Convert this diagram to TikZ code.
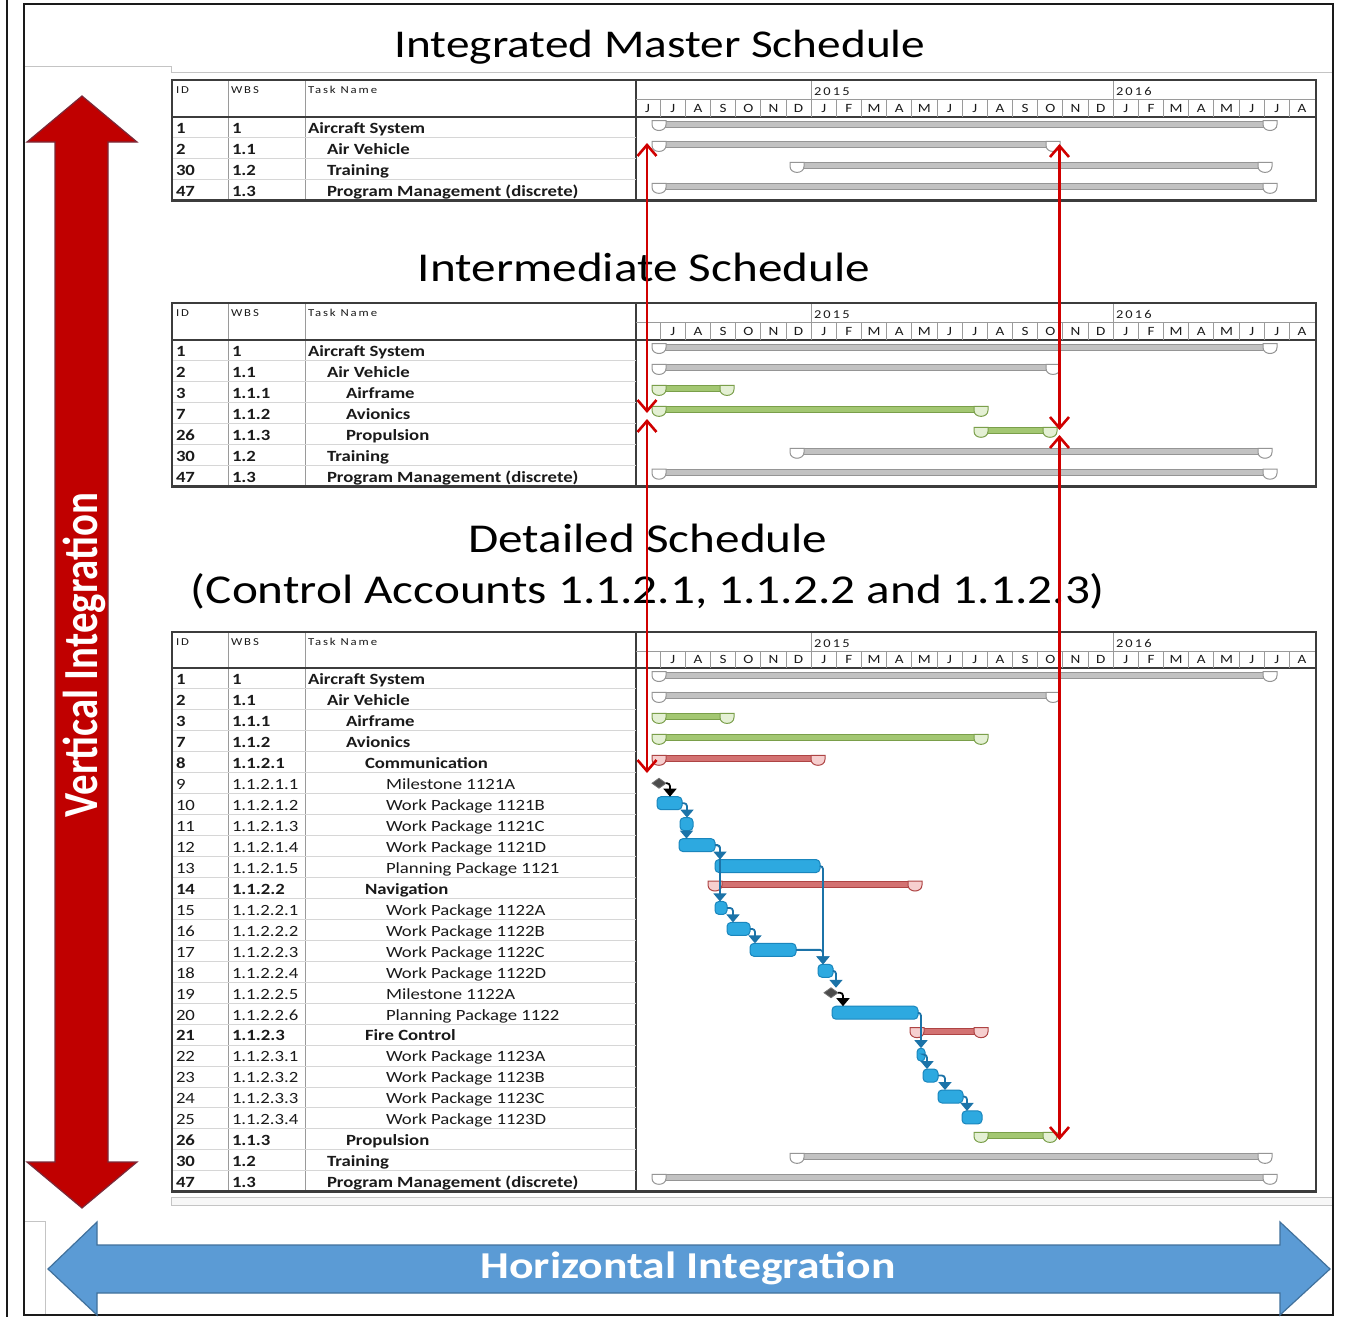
\documentclass[tikz,border=0pt]{standalone}
\usepackage{fontspec}
\setmainfont{Carlito}[FakeStretch=1.2]
\newfontfamily\hdrfont{Carlito}[FakeStretch=1.2,LetterSpace=18]
\newfontfamily\sidefont{Carlito}[FakeStretch=0.833]
\usetikzlibrary{arrows.meta,shapes.geometric}

\definecolor{frameblack}{HTML}{1A1A1A}
\definecolor{softgray}{HTML}{C4C4C4}
\definecolor{tabborder}{HTML}{3C3C3C}
\definecolor{colgray}{HTML}{9A9A9A}
\definecolor{rowgray}{HTML}{D6D6D6}
\definecolor{txtdark}{HTML}{1A1A1A}
\definecolor{sumgrayf}{HTML}{C2C2C2}
\definecolor{sumgrayd}{HTML}{959595}
\definecolor{sumgreenf}{HTML}{A3C772}
\definecolor{sumgreend}{HTML}{7A9F4A}
\definecolor{sumgreenc}{HTML}{E4F0D4}
\definecolor{sumredf}{HTML}{D37272}
\definecolor{sumredd}{HTML}{AE4444}
\definecolor{sumredc}{HTML}{F6CFCF}
\definecolor{taskblue}{HTML}{2DA9E0}
\definecolor{taskblued}{HTML}{1A86BD}
\definecolor{linkblue}{HTML}{1B73A8}
\definecolor{msgray}{HTML}{4C4C4C}
\definecolor{vred}{HTML}{C00000}
\definecolor{vredline}{HTML}{7A2A3A}
\definecolor{hblue}{HTML}{5B9BD5}
\definecolor{hblueline}{HTML}{41719C}
\definecolor{linkred}{HTML}{D00000}

\tikzset{
  every node/.style={inner sep=0pt, outer sep=0pt},
  bigtitle/.style={font=\fontsize{19.7}{23}\selectfont, anchor=base, text=black},
  sectitle/.style={font=\fontsize{20.5}{24}\selectfont, anchor=base, text=black},
  rowtext/.style={font=\fontsize{7.8}{9}\selectfont, anchor=base west, text=txtdark},
  hdrtext/.style={font=\hdrfont\fontsize{5.3}{6}\selectfont, anchor=base west, text=txtdark},
  monthtext/.style={font=\fontsize{6.3}{7}\selectfont, anchor=base, text=txtdark},
  yeartext/.style={font=\hdrfont\fontsize{6}{7}\selectfont, anchor=base west, text=txtdark},
  colrule/.style={draw=colgray, line width=0.5pt},
  rowrule/.style={draw=rowgray, line width=0.5pt},
  ganttrule/.style={draw=tabborder, line width=0.6pt},
  monthrule/.style={draw=colgray, line width=0.45pt},
  tabedge/.style={draw=tabborder, line width=0.9pt},
  tabtop/.style={draw=tabborder, line width=1.4pt},
  sgray bar/.style={draw=sumgrayd, fill=sumgrayf, line width=0.5pt},
  sgray cap/.style={draw=sumgrayd, fill=white, line width=0.5pt},
  sgreen bar/.style={draw=sumgreend, fill=sumgreenf, line width=0.5pt},
  sgreen cap/.style={draw=sumgreend, fill=sumgreenc, line width=0.5pt},
  sred bar/.style={draw=sumredd, fill=sumredf, line width=0.5pt},
  sred cap/.style={draw=sumredd, fill=sumredc, line width=0.5pt},
  taskbar/.style={draw=taskblued, fill=taskblue, rounded corners=2pt, line width=0.5pt},
  milestone/.style={diamond, aspect=1.4, fill=msgray, draw=black!55, line width=0.4pt, minimum width=7pt, minimum height=5pt},
  link/.style={draw=linkblue, line width=0.9pt, rounded corners=1.5pt, -{Triangle[width=6.5pt,length=4pt]}},
  mslink/.style={link, draw=black},
  vlink/.style={draw=linkred, line width=1.3pt,
    {Straight Barb[length=5.5pt,width=9.5pt]}-{Straight Barb[length=5.5pt,width=9.5pt]}},
  bigarrowv/.style={fill=vred, draw=vredline, line width=0.6pt},
  bigarrowh/.style={fill=hblue, draw=hblueline, line width=0.6pt},
  arrowlabel/.style={text=white, font=\bfseries\fontsize{19}{22}\selectfont},
}

% table frame: tag, top, header bottom, bottom, first month label
\newcommand\schedframe[5]{%
  \fill[white] (172,#2) rectangle (1316,#4);
  \draw[colrule] (228,#2) -- (228,#4);
  \draw[colrule] (305,#2) -- (305,#4);
  \draw[ganttrule] (636,#2) -- (636,#4);
  \draw[ganttrule] (172,#3) -- (1316,#3);
  \draw[monthrule] (636,#2+19) -- (1316,#2+19);
  \draw[monthrule] (811,#2) -- (811,#2+19);
  \draw[monthrule] (1113,#2) -- (1113,#2+19);
  \foreach \m in {1,...,26}
    \draw[monthrule] ({635+25.17*\m},#2+19) -- ({635+25.17*\m},#3);
  \foreach \ml [count=\k from 0] in {#5,J,A,S,O,N,D,J,F,M,A,M,J,J,A,S,O,N,D,J,F,M,A,M,J,J,A}
    \node[monthtext] (#1m\k) at ({635+25.17*(\k+0.5)},#3-4.5) {\ml};
  \node[yeartext] (#1y15) at (814,#2+15) {2015};
  \node[yeartext] (#1y16) at (1116,#2+15) {2016};
  \node[hdrtext] (#1hid) at (176,#2+13) {ID};
  \node[hdrtext] (#1hwbs) at (231,#2+13) {WBS};
  \node[hdrtext] (#1htask) at (308,#2+13) {Task Name};
}
% outer border drawn last
\newcommand\schedborder[3]{%
  \draw[tabedge] (172,#1) rectangle (1316,#3);
  \draw[tabtop] (172,#1) -- (1316,#1);
  \draw[tabtop] (172,#3) -- (1316,#3);
}
% task rows: tag, header bottom, list
\newcommand\schedrows[3]{%
  \foreach \i/\id/\wbs/\tx/\wt/\txt in {#3} {
    \pgfmathsetmacro\rtop{#2+20.95*\i}
    \draw[rowrule] (172,\rtop+20.95) -- (636,\rtop+20.95);
    \node[rowtext] (#1id\i) at (176,\rtop+16.8) {\if b\wt\bfseries\fi\id};
    \node[rowtext] (#1wbs\i) at (232,\rtop+16.8) {\if b\wt\bfseries\fi\wbs};
    \node[rowtext] (#1tn\i) at (\tx,\rtop+16.8) {\if b\wt\bfseries\fi\txt};
  }
}
% summary bar with end caps: header bottom, row, x1, x2, kind
\newcommand\sbar[5]{%
  \pgfmathsetmacro\st{#1+20.95*#2}
  \draw[#5 bar] (#3-6,\st+4) rectangle (#4+6,\st+10);
  \foreach \cx in {#3,#4}
    \draw[#5 cap] (\cx-7,\st+3.5) -- (\cx+7,\st+3.5) -- (\cx+7,\st+7.5)
      .. controls (\cx+7,\st+15.5) and (\cx-7,\st+15.5) .. (\cx-7,\st+7.5) -- cycle;
}
% detailed task bar node: name, x1, x2, row
\newcommand\tbar[4]{%
  \node[taskbar, minimum width={(#3-#2)*0.5pt}, minimum height=6.5pt]
    (#1) at ({(#2+#3)/2},{668+20.95*#4+9.5}) {};
}

\begin{document}
\begin{tikzpicture}[x=0.5pt,y=-0.5pt]
\useasboundingbox (0,0) rectangle (1356,1317);
\fill[white] (0,0) rectangle (1356,1317);

% page frame and window edges
\draw[softgray, line width=0.5pt] (24,66) -- (171,66) -- (171,72) -- (1333,72);
\draw[softgray, line width=0.5pt, fill=black!3] (171,1197) rectangle (1333,1205);
\draw[softgray, line width=0.5pt] (24,1221) -- (45,1221) -- (45,1316);
\draw[frameblack, line width=1.1pt] (7,0) -- (7,1317);
\draw[frameblack, line width=0.9pt] (24,4) rectangle (1333,1315);

% titles
\node[bigtitle] (imstitle) at (660,57) {Integrated Master Schedule};
\node[sectitle] (intitle) at (644,281) {Intermediate Schedule};
\node[sectitle] (dettitle) at (648,552) {Detailed Schedule};
\node[sectitle] (ctitle) at (648,603) {(Control Accounts 1.1.2.1, 1.1.2.2 and 1.1.2.3)};

% ---- integrated master schedule
\schedframe{a}{80}{117}{200.8}{J}
\schedrows{a}{117}{0/1/1/308/b/Aircraft System,
  1/2/1.1/327/b/Air Vehicle,
  2/30/1.2/327/b/Training,
  3/47/1.3/327/b/Program Management (discrete)}
\sbar{117}{0}{659}{1270}{sgray}
\sbar{117}{1}{659}{1053}{sgray}
\sbar{117}{2}{797}{1265}{sgray}
\sbar{117}{3}{659}{1270}{sgray}
\schedborder{80}{117}{200.8}

% ---- intermediate schedule
\schedframe{b}{303}{340}{486.6}{\phantom{J}}
\schedrows{b}{340}{0/1/1/308/b/Aircraft System,
  1/2/1.1/327/b/Air Vehicle,
  2/3/1.1.1/346/b/Airframe,
  3/7/1.1.2/346/b/Avionics,
  4/26/1.1.3/346/b/Propulsion,
  5/30/1.2/327/b/Training,
  6/47/1.3/327/b/Program Management (discrete)}
\sbar{340}{0}{659}{1270}{sgray}
\sbar{340}{1}{659}{1053}{sgray}
\sbar{340}{2}{659}{727}{sgreen}
\sbar{340}{3}{659}{981}{sgreen}
\sbar{340}{4}{981}{1050}{sgreen}
\sbar{340}{5}{797}{1265}{sgray}
\sbar{340}{6}{659}{1270}{sgray}
\schedborder{303}{340}{486.6}

% ---- detailed schedule
\schedframe{c}{632}{668}{1191.8}{\phantom{J}}
\schedrows{c}{668}{0/1/1/308/b/Aircraft System,
  1/2/1.1/327/b/Air Vehicle,
  2/3/1.1.1/346/b/Airframe,
  3/7/1.1.2/346/b/Avionics,
  4/8/1.1.2.1/365/b/Communication,
  5/9/1.1.2.1.1/386/n/Milestone 1121A,
  6/10/1.1.2.1.2/386/n/Work Package 1121B,
  7/11/1.1.2.1.3/386/n/Work Package 1121C,
  8/12/1.1.2.1.4/386/n/Work Package 1121D,
  9/13/1.1.2.1.5/386/n/Planning Package 1121,
  10/14/1.1.2.2/365/b/Navigation,
  11/15/1.1.2.2.1/386/n/Work Package 1122A,
  12/16/1.1.2.2.2/386/n/Work Package 1122B,
  13/17/1.1.2.2.3/386/n/Work Package 1122C,
  14/18/1.1.2.2.4/386/n/Work Package 1122D,
  15/19/1.1.2.2.5/386/n/Milestone 1122A,
  16/20/1.1.2.2.6/386/n/Planning Package 1122,
  17/21/1.1.2.3/365/b/Fire Control,
  18/22/1.1.2.3.1/386/n/Work Package 1123A,
  19/23/1.1.2.3.2/386/n/Work Package 1123B,
  20/24/1.1.2.3.3/386/n/Work Package 1123C,
  21/25/1.1.2.3.4/386/n/Work Package 1123D,
  22/26/1.1.3/346/b/Propulsion,
  23/30/1.2/327/b/Training,
  24/47/1.3/327/b/Program Management (discrete)}
\sbar{668}{0}{659}{1270}{sgray}
\sbar{668}{1}{659}{1053}{sgray}
\sbar{668}{2}{659}{727}{sgreen}
\sbar{668}{3}{659}{981}{sgreen}
\sbar{668}{4}{659}{818}{sred}
\sbar{668}{10}{715}{915}{sred}
\sbar{668}{17}{917}{981}{sred}
\sbar{668}{22}{981}{1050}{sgreen}
\sbar{668}{23}{797}{1265}{sgray}
\sbar{668}{24}{659}{1270}{sgray}

% work packages, planning packages and milestones
\node[milestone] (m1121a) at (659,{668+20.95*5+10.5}) {};
\tbar{wp1121b}{657}{682}{6}
\tbar{wp1121c}{680}{693}{7}
\tbar{wp1121d}{679}{715}{8}
\tbar{pp1121}{715}{820}{9}
\tbar{wp1122a}{715}{727}{11}
\tbar{wp1122b}{727}{750}{12}
\tbar{wp1122c}{750}{796}{13}
\tbar{wp1122d}{818}{833}{14}
\node[milestone] (m1122a) at (831,{668+20.95*15+10.5}) {};
\tbar{pp1122}{832}{918}{16}
\tbar{wp1123a}{917}{925}{18}
\tbar{wp1123b}{923}{938}{19}
\tbar{wp1123c}{938}{963}{20}
\tbar{wp1123d}{962}{982}{21}

% finish-to-start links
\draw[mslink] (m1121a.east) -| ([xshift=6.5pt]wp1121b.north west);
\draw[link] (wp1121b.east) -| ([xshift=3.5pt]wp1121c.north west);
\draw[link] (wp1121c.south) -- (wp1121c.south |- wp1121d.north);
\draw[link] (wp1121d.east) -| ([xshift=2.5pt]pp1121.north west);
\draw[link] (wp1121d.east) -| ([xshift=2.5pt]wp1122a.north west);
\draw[link] (wp1122a.east) -| ([xshift=3pt]wp1122b.north west);
\draw[link] (wp1122b.east) -| ([xshift=2.5pt]wp1122c.north west);
\draw[link] (wp1122c.east) -| ([xshift=2.5pt]wp1122d.north west);
\draw[link] (pp1121.east) -| ([xshift=2.5pt]wp1122d.north west);
\draw[link] (wp1122d.east) -| ([xshift=2.5pt]m1122a.north);
\draw[mslink] (m1122a.east) -| ([xshift=5.5pt]pp1122.north west);
\draw[link] (pp1122.east) -| ([xshift=2pt]wp1123a.north west);
\draw[link] (wp1123a.east) -| ([xshift=2pt]wp1123b.north west);
\draw[link] (wp1123b.east) -| ([xshift=3.5pt]wp1123c.north west);
\draw[link] (wp1123c.east) -| ([xshift=2.5pt]wp1123d.north west);
\schedborder{632}{668}{1191.8}

% traceability between the schedule levels
\coordinate (la1) at (647,143);
\coordinate (la2) at (647,413);
\coordinate (la3) at (647,419);
\coordinate (la4) at (647,773);
\coordinate (ra1) at (1059.5,144);
\coordinate (ra2) at (1059.5,430);
\coordinate (ra3) at (1059.5,435);
\coordinate (ra4) at (1059.5,1140);
\draw[vlink] (la1) -- (la2);
\draw[vlink] (la3) -- (la4);
\draw[vlink] (ra1) -- (ra2);
\draw[vlink] (ra3) -- (ra4);

% vertical integration arrow
\draw[bigarrowv] (82,96) -- (137,142) -- (108,142) -- (108,1162) -- (137,1162)
  -- (82,1208) -- (27,1162) -- (55,1162) -- (55,142) -- (27,142) -- cycle;
\node[text=white, rotate=90, font=\sidefont\bfseries\fontsize{24.5}{27}\selectfont]
  (vlabel) at (84,655) {Vertical Integration};

% horizontal integration arrow
\draw[bigarrowh] (48,1269) -- (97,1222) -- (97,1245) -- (1280,1245) -- (1280,1222)
  -- (1330,1269) -- (1280,1315) -- (1280,1293) -- (97,1293) -- (97,1315) -- cycle;
\node[arrowlabel] (hlabel) at (688,1268) {Horizontal Integration};
\end{tikzpicture}
\end{document}
